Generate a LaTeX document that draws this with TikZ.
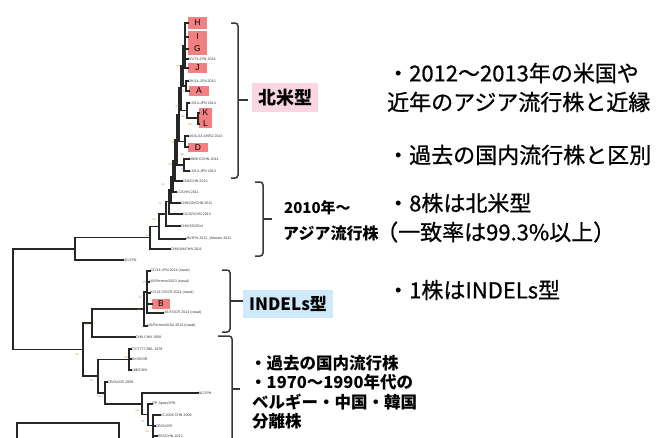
\documentclass[tikz,border=0pt]{standalone}
\usepackage{fontspec}
\setmainfont{Liberation Sans}
\newfontfamily\jp{Noto Sans CJK JP}
\newfontfamily\jpf[FakeBold=0.8]{Noto Sans CJK JP}
\definecolor{boxred}{RGB}{242,128,128}
\definecolor{boxpink}{RGB}{250,214,226}
\definecolor{boxblue}{RGB}{206,234,250}
\definecolor{bsor}{RGB}{225,130,30}
\definecolor{bsbl}{RGB}{40,120,220}
\definecolor{brk}{RGB}{55,55,55}
\newcommand\tvl[3]{\draw[tr] (#1,#2) -- (#1,#3);}
\newcommand\thl[3]{\draw[tr] (#1,#2) -- (#3,#2);}
\newcommand\tlb[3]{\node[lbl] at (#1,#2) {#3};}
\newcommand\tbs[3]{\node[bs,text=#3] at (#1,#2) {99};}
\begin{document}
\begin{tikzpicture}[x=1pt,y=-1pt,
  tr/.style={line width=1.2pt,black!85,line cap=rect},
  lbl/.style={anchor=west,inner sep=0.3pt,font=\fontsize{3.6}{4}\selectfont,text=black!80},
  bs/.style={inner sep=0pt,font=\fontsize{2.6}{3}\selectfont},
  rbox/.style={fill=boxred,inner sep=0pt},
  let/.style={inner sep=0pt,font=\fontsize{8.5}{9}\selectfont},
  brace/.style={draw=brk,line width=1.5pt,rounded corners=3pt},
  jt/.style={anchor=west,inner sep=0pt,font=\jpf\fontsize{22}{22}\selectfont},
  jb/.style={anchor=west,inner sep=0pt,font=\jp\bfseries\fontsize{16.5}{17}\selectfont}]
\useasboundingbox (0,0) rectangle (666,437);
\clip (0,0) rectangle (666,437);

% ---------- coloured strain boxes ----------
\node[rbox,minimum width=19,minimum height=12] (bH) at (197.5,23) {};
\node[rbox,minimum width=19,minimum height=24] (bIG) at (197.5,43) {};
\node[rbox,minimum width=19,minimum height=10] (bJ) at (197.5,68) {};
\node[rbox,minimum width=20,minimum height=10] (bA) at (199,91) {};
\node[rbox,minimum width=13,minimum height=20] (bKL) at (205.5,118) {};
\node[rbox,minimum width=20,minimum height=9] (bD) at (198,147.5) {};
\node[rbox,minimum width=18,minimum height=10] (bB) at (161,304) {};
\node[let] (lH) at (197.5,23) {H};
\node[let] (lI) at (197.5,37) {I};
\node[let] (lG) at (197.5,49) {G};
\node[let] (lJ) at (197.5,68) {J};
\node[let] (lA) at (199,91) {A};
\node[let] (lK) at (205.5,113) {K};
\node[let] (lL) at (205.5,124) {L};
\node[let] (lD) at (198,147.5) {D};
\node[let] (lB) at (161,304) {B};

% ---------- North American clade ----------
\tvl{185}{23}{68}
\thl{185}{23}{188}\thl{185}{37}{188}\thl{185}{49}{188}\thl{185}{59}{188}\thl{185}{68}{188}
\tlb{188}{59}{NY/74-JPN 2014}
\tvl{186}{81}{91}\thl{186}{81}{188}\thl{186}{91}{189}
\tlb{188}{81}{OK/14-JPN 2013}
\tvl{187}{103}{118}\thl{187}{103}{189}\thl{187}{118}{198}
\tlb{189}{103}{LS/14-JPN 2014}
\tvl{198}{113}{124}\thl{198}{113}{199}\thl{198}{124}{199}
\tvl{185}{136}{147}\thl{185}{136}{188}\thl{185}{147}{188}
\tlb{188}{136}{US/IL/14-18952 2013}
\tvl{184}{159}{171}\thl{184}{159}{189}\thl{184}{171}{189}
\tlb{189}{159}{MB/KY/CHN 2014}
\tlb{189}{171}{LS/14-JPN 2014}
\tvl{183}{45.5}{86}\thl{183}{45.5}{185}\thl{183}{86}{186}
\tvl{181}{65.75}{110.5}\thl{181}{65.75}{183}\thl{181}{110.5}{187}
\tvl{179}{88}{141.5}\thl{179}{88}{181}\thl{179}{141.5}{185}
\tvl{177}{114.75}{165}\thl{177}{114.75}{179}\thl{177}{165}{184}

% ---------- Asian lineage ----------
\tvl{175}{140}{181}\thl{175}{140}{177}\thl{175}{181}{182}
\tlb{182}{181}{CD4/CHN 2013}
\tvl{173}{160.5}{192}\thl{173}{160.5}{175}\thl{173}{192}{176}
\tlb{176}{192}{LC/CHN 2011}
\tvl{171}{176.25}{203}\thl{171}{176.25}{173}\thl{171}{203}{180}
\tlb{180}{203}{CHN/GD/CHN 2011}
\tvl{169}{189.6}{214}\thl{169}{189.6}{171}\thl{169}{214}{182}
\tlb{182}{214}{CS/SZ/CHN 2013}
\tvl{166}{201.8}{226}\thl{166}{201.8}{169}\thl{166}{226}{180}
\tlb{180}{226}{CHN/SS/2014}
\tvl{159}{213.9}{239}\thl{159}{213.9}{166}\thl{159}{239}{185}
\tlb{185}{239}{VN/JPN 2012\_Vietnam 2012}
\tvl{150}{226.5}{249}\thl{150}{226.5}{159}\thl{150}{249}{170}
\tlb{170}{249}{CHN/AH/CHN 2011}
\tvl{75}{237.7}{260}\thl{75}{237.7}{150}\thl{75}{260}{123}
\tlb{123}{260}{NC/JPN}

% ---------- root ----------
\tvl{13}{248.9}{349.5}\thl{13}{248.9}{75}\thl{13}{349.5}{83}

% ---------- INDELs clade ----------
\tvl{83}{323}{376}\thl{83}{323}{92}\thl{83}{376}{98}
\tvl{92}{309}{337}\thl{92}{309}{144}\thl{92}{337}{135}
\tlb{135}{337}{CHN CHN 1958}
\tvl{144}{292}{326}\thl{144}{292}{147}\thl{144}{326}{147}
\tlb{147}{326}{US/Fermon/USA 2013 (nasal)}
\tvl{147}{271}{313}
\thl{147}{271}{150}\thl{147}{282}{149}\thl{147}{293}{150}\thl{147}{304}{152}\thl{147}{313}{163}
\tlb{150}{271}{CC/14-JPN 2014 (nasal)}
\tlb{149}{282}{US/Fermon/2013 (nasal)}
\tlb{150}{293}{KY/14-CS/CR 2014 (nasal)}
\tlb{163}{313}{US/TX/CR 2014 (nasal)}

% ---------- old domestic strains ----------
\tvl{98}{359.5}{393}\thl{98}{359.5}{129}\thl{98}{393}{105}
\tvl{129}{349}{370}\thl{129}{349}{131}\thl{129}{359}{131}\thl{129}{370}{131}
\tlb{131}{349}{CY/7777 BEL 1978}
\tlb{131}{359}{BVS/KOR}
\tlb{131}{370}{LBE/CHN}
\tvl{105}{382}{403.9}\thl{105}{382}{107}\thl{105}{403.9}{142}
\tlb{107}{382}{CR/GKOR 2008}
\tvl{142}{393}{414.75}\thl{142}{393}{198}\thl{142}{414.75}{148}
\tlb{198}{393}{NC/JPN}
\tvl{148}{404}{425.5}\thl{148}{404}{152}\thl{148}{425.5}{153}
\tlb{152}{404}{EP-Spain/JPN}
\tvl{153}{415}{446}\thl{153}{415}{160}\thl{153}{426}{155}\thl{153}{436}{157}
\tlb{160}{415}{JS 2008 CHN 2008}
\tlb{155}{426}{CR/GKOR}
\tlb{157}{436}{BVS/CHN 2012}

% ---------- bootstrap values ----------
\tbs{178}{67}{bsor}\tbs{182}{92}{bsbl}\tbs{177}{107}{bsor}\tbs{183}{117}{bsbl}
\tbs{190}{125}{bsor}\tbs{173}{143}{bsor}\tbs{182}{155}{bsbl}\tbs{170}{165}{bsor}
\tbs{183}{170}{bsbl}\tbs{163}{185}{bsor}\tbs{160}{204}{bsor}\tbs{165}{215}{bsbl}
\tbs{154}{220}{bsor}\tbs{147}{236}{bsor}\tbs{144}{283}{bsor}\tbs{140}{298}{bsor}
\tbs{139}{310}{bsor}\tbs{86}{325}{bsor}\tbs{77}{355}{bsor}\tbs{91}{381}{bsor}
\tbs{99}{397}{bsor}\tbs{126}{358}{bsor}\tbs{137}{411}{bsor}\tbs{143}{422}{bsor}
\tbs{147}{432}{bsor}

% ---------- scale bar ----------
\draw[tr] (17,440) -- (17,423) -- (119,423) -- (119,440);

% ---------- brackets ----------
\draw[brace] (231,23) -- (238,23) -- (238,178) -- (231,178);
\draw[brace] (238,100) -- (248,100);
\draw[brace] (255,182) -- (263,182) -- (263,256) -- (255,256);
\draw[brace] (263,219) -- (272,219);
\draw[brace] (222,270) -- (230,270) -- (230,332) -- (222,332);
\draw[brace] (230,301) -- (243,301);
\draw[brace] (218,336) -- (232,336) -- (232,450);
\draw[brace] (232,389) -- (240,389);

% ---------- group labels ----------
\node[fill=boxpink,minimum width=66,minimum height=29,inner sep=0,
      font=\jp\bfseries\fontsize{18}{18}\selectfont] (na) at (285,97.5) {北米型};
\node[fill=boxblue,minimum width=90,minimum height=28,inner sep=0,
      font=\jp\bfseries\fontsize{17}{17}\selectfont] (indel) at (288,304) {INDELs型};
\node[anchor=west,inner sep=0,font=\jp\bfseries\fontsize{15}{15}\selectfont] (as1) at (284,208) {2010年～};
\node[anchor=west,inner sep=0,font=\jp\bfseries\fontsize{16}{16}\selectfont] (as2) at (283,233) {アジア流行株};

% ---------- main notes ----------
\node[jt] (t1) at (387,73) {・2012～2013年の米国や};
\node[jt] (t2) at (387,102) {近年のアジア流行株と近縁};
\node[jt] (t3) at (387,155) {・過去の国内流行株と区別};
\node[jt] (t4) at (387,203) {・8株は北米型};
\node[jt] (t5) at (376,232) {（一致率は99.3\%以上）};
\node[jt] (t6) at (387,290) {・1株はINDELs型};

\node[jb] (u1) at (250,363) {・過去の国内流行株};
\node[jb] (u2) at (250,382) {・1970～1990年代の};
\node[jb] (u3) at (252,402) {ベルギー・中国・韓国};
\node[jb] (u4) at (252,421) {分離株};
\end{tikzpicture}
\end{document}
